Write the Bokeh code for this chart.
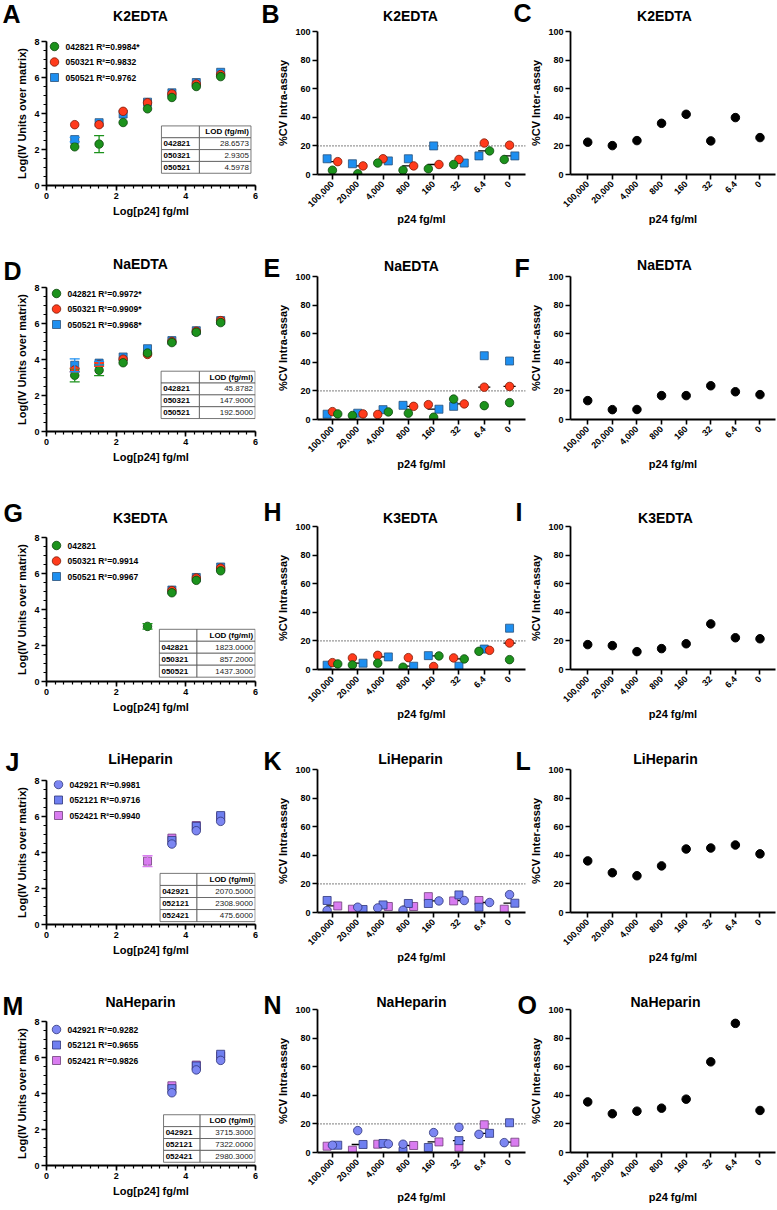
import numpy as np
from math import pi
from bokeh.plotting import figure
from bokeh.models import (ColumnDataSource, FixedTicker, Whisker, TeeHead, Span, Range1d)
from bokeh.layouts import row, column
from bokeh.embed import file_html
from bokeh.resources import INLINE
from bokeh.core.properties import value

# ------------------------------------------------------------------ data
LOG_P24 = [0.81, 1.51, 2.20, 2.90, 3.60, 4.30, 5.00]
P24_CATS = ["100,000", "20,000", "4,000", "800", "160", "32", "6.4", "0"]
NAN = float("nan")

EDTA_LOTS = ["042821", "050321", "050521"]
HEP_LOTS = ["042921", "052121", "052421"]

PANEL_LETTERS = ["A", "B", "C", "D", "E", "F", "G", "H", "I", "J", "K", "L", "M", "N", "O"]
PANEL_TITLES = ["K2EDTA", "K2EDTA", "K2EDTA", "NaEDTA", "NaEDTA", "NaEDTA",
                "K3EDTA", "K3EDTA", "K3EDTA", "LiHeparin", "LiHeparin", "LiHeparin",
                "NaHeparin", "NaHeparin", "NaHeparin"]

# --- standard curves: Log(IV units over matrix)
K2_042821 = [2.15, 2.30, 3.50, 4.26, 4.89, 5.50, 6.05]
K2_050321 = [3.38, 3.38, 4.12, 4.60, 5.09, 5.64, 6.16]
K2_050521 = [2.55, 3.49, 3.97, 4.63, 5.15, 5.72, 6.29]
K2_ERR_042821 = [0, 0.47, 0, 0, 0, 0, 0]
K2_ERR_050321 = [0, 0, 0, 0, 0, 0, 0]
K2_ERR_050521 = [0.12, 0, 0, 0, 0, 0, 0]
K2_LEGEND = ["042821 R²=0.9984*", "050321 R²=0.9832", "050521 R²=0.9762"]
K2_LOD = ["28.6573", "2.9305", "4.5978"]

NA_042821 = [3.12, 3.40, 3.82, 4.36, 4.94, 5.51, 6.05]
NA_050321 = [3.42, 3.72, 4.02, 4.28, 5.00, 5.57, 6.16]
NA_050521 = [3.68, 3.80, 4.14, 4.60, 5.05, 5.60, 6.16]
NA_ERR_042821 = [0.36, 0.30, 0, 0, 0, 0, 0]
NA_ERR_050321 = [0.10, 0.10, 0, 0, 0, 0, 0]
NA_ERR_050521 = [0.36, 0.10, 0, 0, 0, 0, 0]
NA_LEGEND = ["042821 R²=0.9972*", "050321 R²=0.9909*", "050521 R²=0.9968*"]
NA_LOD = ["45.8782", "147.9000", "192.5000"]

K3_042821 = [NAN, NAN, NAN, 3.06, 4.93, 5.62, 6.15]
K3_050321 = [NAN, NAN, NAN, NAN, 5.05, 5.75, 6.30]
K3_050521 = [NAN, NAN, NAN, NAN, 5.08, 5.78, 6.36]
K3_ERR_042821 = [0, 0, 0, 0.15, 0, 0, 0]
K3_ERR_050321 = [0, 0, 0, 0, 0, 0, 0]
K3_ERR_050521 = [0, 0, 0, 0, 0, 0, 0]
K3_LEGEND = ["042821", "050321 R²=0.9914", "050521 R²=0.9967"]
K3_LOD = ["1823.0000", "857.2000", "1437.3000"]

LI_042921 = [NAN, NAN, NAN, NAN, 4.47, 5.21, 5.73]
LI_052121 = [NAN, NAN, NAN, NAN, 4.67, 5.45, 6.05]
LI_052421 = [NAN, NAN, NAN, 3.52, 4.80, 5.50, 5.98]
LI_ERR_042921 = [0, 0, 0, 0, 0, 0, 0]
LI_ERR_052121 = [0, 0, 0, 0, 0, 0, 0]
LI_ERR_052421 = [0, 0, 0, 0.30, 0, 0, 0]
LI_LEGEND = ["042921 R²=0.9981", "052121 R²=0.9716", "052421 R²=0.9940"]
LI_LOD = ["2070.5000", "2308.9000", "475.6000"]

NH_042921 = [NAN, NAN, NAN, NAN, 4.04, 5.31, 5.84]
NH_052121 = [NAN, NAN, NAN, NAN, 4.27, 5.53, 6.18]
NH_052421 = [NAN, NAN, NAN, NAN, 4.43, 5.58, 6.08]
NH_ERR_042921 = [0, 0, 0, 0, 0, 0, 0]
NH_ERR_052121 = [0, 0, 0, 0, 0, 0, 0]
NH_ERR_052421 = [0, 0, 0, 0, 0, 0, 0]
NH_LEGEND = ["042921 R²=0.9282", "052121 R²=0.9655", "052421 R²=0.9826"]
NH_LOD = ["3715.3000", "7322.0000", "2980.3000"]

# --- intra-assay %CV (per lot, categories in P24_CATS order)
K2_INTRA_042821 = [3.0, 0.5, 8.0, 3.0, 4.0, 7.0, 16.5, 10.5]
K2_INTRA_050321 = [9.0, 6.0, 11.0, 6.0, 7.0, 10.5, 22.0, 20.5]
K2_INTRA_050521 = [11.0, 7.5, 9.5, 11.0, 20.0, 8.0, 13.0, 13.0]

NA_INTRA_042821 = [3.9, 2.8, 5.3, 4.4, 1.6, 14.3, 9.7, 11.8]
NA_INTRA_050321 = [5.5, 3.9, 3.5, 9.2, 10.4, 10.9, 22.6, 23.1]
NA_INTRA_050521 = [3.7, 4.4, 6.9, 9.9, 7.2, 9.2, 44.6, 40.9]

K3_INTRA_042821 = [3.9, 3.2, 4.4, 1.6, 9.5, 7.4, 12.7, 6.9]
K3_INTRA_050321 = [4.8, 8.1, 9.9, 8.3, 2.1, 8.1, 13.4, 18.5]
K3_INTRA_050521 = [3.0, 4.4, 8.8, 2.3, 9.7, 2.3, 14.3, 28.9]

LI_INTRA_042921 = [1.4, 3.7, 3.2, 1.6, 8.1, 8.4, 7.0, 12.5]
LI_INTRA_052121 = [8.4, 2.1, 5.3, 6.3, 6.3, 12.3, 3.7, 6.5]
LI_INTRA_052421 = [4.6, 2.3, 4.2, 4.2, 11.1, 8.1, 8.4, 2.3]

NH_INTRA_042921 = [5.1, 15.3, 6.0, 5.8, 13.9, 17.6, 12.7, 6.9]
NH_INTRA_052121 = [5.1, 5.6, 6.3, 0.7, 3.5, 8.3, 13.4, 20.8]
NH_INTRA_052421 = [4.4, 1.6, 5.8, 4.9, 7.4, 3.7, 19.4, 7.2]

# --- inter-assay %CV
K2_INTER = [22.6, 20.2, 23.7, 35.8, 42.1, 23.5, 39.8, 25.8]
NA_INTER = [13.2, 6.9, 7.0, 16.7, 16.7, 23.6, 19.4, 17.4]
K3_INTER = [17.4, 16.7, 12.5, 14.6, 18.0, 31.9, 22.2, 21.5]
LI_INTER = [36.1, 27.8, 25.7, 32.6, 44.4, 45.1, 47.2, 41.0]
NH_INTER = [35.4, 27.1, 28.9, 31.0, 37.3, 63.4, 90.3, 29.4]

# ------------------------------------------------------------------ layout / style
FONT = "Liberation Sans"
PAGE_W, PAGE_H = 777, 1210
ROW_TOP = [0, 240, 487, 732, 973]
ROW_H = [240, 247, 245, 241, 237]
COL_LEFT = [0, 260, 527]
COL_W = [260, 267, 250]
FRAME_X = [(46, 255), (317, 525), (565, 775)]
FRAME_TOP = [[41, 287, 537, 780, 1021], [31, 276, 526, 769, 1009], [31, 276, 526, 769, 1009]]
FRAME_H = [144, 143, 143]
X_RANGES = [(0, 6), (-0.59, 7.63), (-0.70, 7.63)]
Y_RANGES = [(0, 8), (0, 100), (0, 100)]

# page positions of panel titles (centre) and panel letters (left edge, centre y)
TITLE_POS_X = [140, 410, 664, 140, 411, 664, 140, 410, 665, 140, 410, 665, 140, 411, 665]
TITLE_POS_Y = [15, 15, 15, 263, 265, 264, 517, 517, 517, 758, 758, 758, 1001, 1001, 1001]
LETTER_POS_X = [2, 261, 513, 3, 263, 514, 3, 263, 515, 5, 263, 515, 2, 263, 517]
LETTER_POS_Y = [13, 13, 12, 270, 267, 267, 512, 511, 511, 761, 760, 760, 1005, 1004, 1004]

# jitter slots (-1 left, 0 centre, +1 right) for intra-assay dots
K2_SLOTS = [[0, 0, -1, -1, -1, -1, 1, -1], [1, 1, 0, 1, 1, 0, 0, 0], [-1, -1, 1, 0, 0, 1, -1, 1]]
NA_SLOTS = [[1, -1, 1, 0, 0, -1, 0, 0], [0, 1, -1, 1, -1, 1, 0, 0], [-1, 0, 0, -1, 1, -1, 0, 0]]
K3_SLOTS = [[1, -1, -1, -1, 1, 1, -1, 0], [0, -1, -1, 0, 0, -1, 1, 0], [-1, 1, 1, 1, -1, 0, 0, 0]]
LI_SLOTS = [[-1, 0, -1, -1, 1, 1, 1, 0], [-1, 1, 0, 0, -1, 0, -1, 1], [1, -1, 1, 1, -1, -1, -1, -1]]
NH_SLOTS = [[0, 0, 1, -1, 0, 0, -1, -1], [1, 1, 0, -1, -1, 0, 1, 0], [-1, -1, -1, 1, 1, 0, 0, 1]]
JIT = 0.21
MED_HALF = 0.24

# table geometry in data units: x0, x_split, x1, y_top, y_bottom
TABLE_GEOM = [(3.30, 4.39, 5.87, 3.31, 0.68), (3.29, 4.39, 5.99, 3.35, 0.72),
              (3.24, 4.32, 5.99, 2.90, 0.24), (3.26, 4.32, 5.99, 2.84, 0.16),
              (3.36, 4.41, 5.99, 2.82, 0.18)]
# key: marker centre offset from frame left (px), first row below frame top (px), row pitch (px)
LEGEND_DX = [8, 10, 10, 12, 10]
LEGEND_DY = [5, 6, 8, 4, 8]
LEGEND_PITCH = 15.5
LEGEND_TEXT_GAP = 11

EDTA_STYLE = [dict(marker="circle", fill="#1c921c", line="#0c460c", size=8.5),
              dict(marker="circle", fill="#ff3b1c", line="#7d1a05", size=8.5),
              dict(marker="square", fill="#1e8ff0", line="#29507a", size=8)]
HEP_STYLE = [dict(marker="circle", fill="#7c86f2", line="#2f3578", size=8.5),
             dict(marker="square", fill="#6f7ff0", line="#2f3578", size=8),
             dict(marker="square", fill="#d97cf0", line="#6e3f78", size=8)]


def base_fig(r, c):
    fx0, fx1 = FRAME_X[c]
    ft = FRAME_TOP[c][r]
    fh = FRAME_H[c]
    w, h = COL_W[c], ROW_H[r]
    bt = ft - ROW_TOP[r]
    p = figure(width=w, height=h,
               x_range=Range1d(*X_RANGES[c]), y_range=Range1d(*Y_RANGES[c]),
               min_border_left=fx0 - COL_LEFT[c], min_border_right=COL_LEFT[c] + w - fx1,
               min_border_top=bt, min_border_bottom=h - bt - fh,
               output_backend="svg", toolbar_location=None,
               background_fill_color="white", border_fill_color="white")
    p.grid.visible = False
    p.outline_line_color = None
    for ax in list(p.xaxis) + list(p.yaxis):
        ax.axis_line_width = 1.8
        ax.axis_line_color = "black"
        ax.major_tick_line_width = 1.6
        ax.major_tick_line_color = "black"
        ax.minor_tick_line_width = 1.2
        ax.minor_tick_line_color = "black"
        ax.major_tick_in = 0
        ax.major_tick_out = 5
        ax.minor_tick_in = 0
        ax.minor_tick_out = 3
        ax.major_label_text_font = FONT
        ax.major_label_text_font_style = "bold"
        ax.major_label_text_font_size = "9px"
        ax.major_label_text_color = "black"
        ax.major_label_standoff = 2
        ax.axis_label_text_font = FONT
        ax.axis_label_text_font_style = "bold"
        ax.axis_label_text_font_size = "11px"
        ax.axis_label_text_color = "black"
        ax.axis_label_standoff = 3
    return p


def px_to_data(c, dx, dy_from_top):
    fx0, fx1 = FRAME_X[c]
    xr, yr = X_RANGES[c], Y_RANGES[c]
    x = xr[0] + dx / (fx1 - fx0) * (xr[1] - xr[0])
    y = yr[1] - dy_from_top / FRAME_H[c] * (yr[1] - yr[0])
    return x, y


def curve_panel(r, series, errs, legend_labels, lods, lots, styles):
    p = base_fig(r, 0)
    p.xaxis.ticker = FixedTicker(ticks=[0, 2, 4, 6], minor_ticks=[i * 0.25 for i in range(25)])
    p.yaxis.ticker = FixedTicker(ticks=[0, 2, 4, 6, 8], minor_ticks=[i * 0.5 for i in range(17)])
    p.xaxis.axis_label = "Log[p24] fg/ml"
    p.yaxis.axis_label = "Log(IV Units over matrix)"

    # LOD table
    x0, xm, x1, yt, yb = TABLE_GEOM[r]
    rh = (yt - yb) / 4.0
    lefts, rights, tops, bottoms = [], [], [], []
    for i in range(4):
        for a, b in ((x0, xm), (xm, x1)):
            lefts.append(a); rights.append(b)
            tops.append(yt - i * rh); bottoms.append(yt - (i + 1) * rh)
    p.quad(left=lefts, right=rights, top=tops, bottom=bottoms,
           fill_color="white", line_color="#555555", line_width=0.8)
    pad = 0.06
    ycent = [yt - (i + 0.5) * rh for i in range(4)]
    p.text(x=[x1 - pad], y=[ycent[0]], text=["LOD (fg/ml)"], text_align="right",
           text_baseline="middle", text_font=value(FONT), text_font_size="8px",
           text_font_style="bold", text_color="black")
    p.text(x=[x0 + pad] * 3, y=ycent[1:], text=lots, text_align="left",
           text_baseline="middle", text_font=value(FONT), text_font_size="8px",
           text_font_style="bold", text_color="black")
    p.text(x=[x1 - pad] * 3, y=ycent[1:], text=lods, text_align="right",
           text_baseline="middle", text_font=value(FONT), text_font_size="8px",
           text_font_style="normal", text_color="#222222")

    xs = np.array(LOG_P24)
    for k in range(len(series)):
        y = np.array(series[k], dtype=float)
        e = np.array(errs[k], dtype=float)
        m = (e > 0) & ~np.isnan(y)
        if m.any():
            src = ColumnDataSource(dict(x=xs[m], lo=y[m] - e[m], hi=y[m] + e[m]))
            col = styles[k]["fill"]
            p.add_layout(Whisker(source=src, base="x", lower="lo", upper="hi",
                                 line_color=col, line_width=1.3, level="glyph",
                                 upper_head=TeeHead(size=10, line_color=col, line_width=1.3),
                                 lower_head=TeeHead(size=10, line_color=col, line_width=1.3)))
    for k in reversed(range(len(series))):
        st = styles[k]
        p.scatter(x=xs, y=np.array(series[k], dtype=float), marker=st["marker"],
                  size=st["size"], fill_color=st["fill"], line_color=st["line"], line_width=0.8)

    # key (marker + label per lot)
    for k in range(len(series)):
        st = styles[k]
        dy = LEGEND_DY[r] + k * LEGEND_PITCH
        mx, my = px_to_data(0, LEGEND_DX[r], dy)
        tx, _ = px_to_data(0, LEGEND_DX[r] + LEGEND_TEXT_GAP, dy)
        p.scatter(x=[mx], y=[my], marker=st["marker"], size=st["size"],
                  fill_color=st["fill"], line_color=st["line"], line_width=0.8)
        p.text(x=[tx], y=[my], text=[legend_labels[k]], text_align="left",
               text_baseline="middle", text_font=value(FONT), text_font_size="8.5px",
               text_font_style="bold", text_color="black")
    return p


def cv_base(r, c, ylabel):
    p = base_fig(r, c)
    p.xaxis.ticker = FixedTicker(ticks=list(range(len(P24_CATS))))
    p.xaxis.major_label_overrides = {i: lab for i, lab in enumerate(P24_CATS)}
    p.xaxis.major_label_orientation = pi / 4
    p.xaxis.major_label_standoff = 3
    p.xaxis.axis_label_standoff = 0
    p.yaxis.ticker = FixedTicker(ticks=[0, 20, 40, 60, 80, 100])
    p.xaxis.axis_label = "p24 fg/ml"
    p.yaxis.axis_label = ylabel
    return p


def intra_panel(r, series, slots, styles):
    p = cv_base(r, 1, "%CV Intra-assay")
    p.add_layout(Span(location=20, dimension="width", line_color="#333333",
                      line_dash="1 2", line_width=1.1, level="underlay"))
    arr = np.array(series, dtype=float)
    med = np.median(arr, axis=0)
    cx = np.arange(len(P24_CATS), dtype=float)
    p.segment(x0=cx - MED_HALF, x1=cx + MED_HALF, y0=med, y1=med,
              line_color="black", line_width=1.3)
    for k in reversed(range(len(series))):
        st = styles[k]
        x = cx + np.array(slots[k]) * JIT
        p.scatter(x=x, y=arr[k], marker=st["marker"], size=st["size"],
                  fill_color=st["fill"], line_color=st["line"], line_width=0.8)
    return p


def inter_panel(r, vals):
    p = cv_base(r, 2, "%CV Inter-assay")
    cx = np.arange(len(P24_CATS), dtype=float)
    p.scatter(x=cx, y=vals, marker="circle", size=8.5, fill_color="black", line_color="black")
    return p


left = [
    curve_panel(0, [K2_042821, K2_050321, K2_050521],
                [K2_ERR_042821, K2_ERR_050321, K2_ERR_050521], K2_LEGEND, K2_LOD, EDTA_LOTS, EDTA_STYLE),
    curve_panel(1, [NA_042821, NA_050321, NA_050521],
                [NA_ERR_042821, NA_ERR_050321, NA_ERR_050521], NA_LEGEND, NA_LOD, EDTA_LOTS, EDTA_STYLE),
    curve_panel(2, [K3_042821, K3_050321, K3_050521],
                [K3_ERR_042821, K3_ERR_050321, K3_ERR_050521], K3_LEGEND, K3_LOD, EDTA_LOTS, EDTA_STYLE),
    curve_panel(3, [LI_042921, LI_052121, LI_052421],
                [LI_ERR_042921, LI_ERR_052121, LI_ERR_052421], LI_LEGEND, LI_LOD, HEP_LOTS, HEP_STYLE),
    curve_panel(4, [NH_042921, NH_052121, NH_052421],
                [NH_ERR_042921, NH_ERR_052121, NH_ERR_052421], NH_LEGEND, NH_LOD, HEP_LOTS, HEP_STYLE),
]
middle = [
    intra_panel(0, [K2_INTRA_042821, K2_INTRA_050321, K2_INTRA_050521], K2_SLOTS, EDTA_STYLE),
    intra_panel(1, [NA_INTRA_042821, NA_INTRA_050321, NA_INTRA_050521], NA_SLOTS, EDTA_STYLE),
    intra_panel(2, [K3_INTRA_042821, K3_INTRA_050321, K3_INTRA_050521], K3_SLOTS, EDTA_STYLE),
    intra_panel(3, [LI_INTRA_042921, LI_INTRA_052121, LI_INTRA_052421], LI_SLOTS, HEP_STYLE),
    intra_panel(4, [NH_INTRA_042921, NH_INTRA_052121, NH_INTRA_052421], NH_SLOTS, HEP_STYLE),
]
right = [
    inter_panel(0, K2_INTER),
    inter_panel(1, NA_INTER),
    inter_panel(2, K3_INTER),
    inter_panel(3, LI_INTER),
    inter_panel(4, NH_INTER),
]

# transparent overlay (page coordinates) carrying panel titles and panel letters
ov = figure(width=PAGE_W, height=PAGE_H, x_range=Range1d(0, PAGE_W), y_range=Range1d(PAGE_H, 0),
            x_axis_type=None, y_axis_type=None, min_border=0,
            output_backend="svg", toolbar_location=None,
            background_fill_color=None, border_fill_color=None,
            styles={"position": "absolute", "left": "0px", "top": "0px",
                    "pointer-events": "none", "z-index": "5"})
ov.grid.visible = False
ov.outline_line_color = None
ov.text(x=TITLE_POS_X, y=TITLE_POS_Y, text=PANEL_TITLES, text_align="center",
        text_baseline="middle", text_font=value(FONT), text_font_size="14px",
        text_font_style="bold", text_color="black")
ov.text(x=LETTER_POS_X, y=LETTER_POS_Y, text=PANEL_LETTERS, text_align="left",
        text_baseline="middle", text_font=value(FONT), text_font_size="25px",
        text_font_style="bold", text_color="black")

layout = row(column(*left), column(*middle), column(*right), ov)
open("out.html", "w").write(file_html(layout, INLINE))
